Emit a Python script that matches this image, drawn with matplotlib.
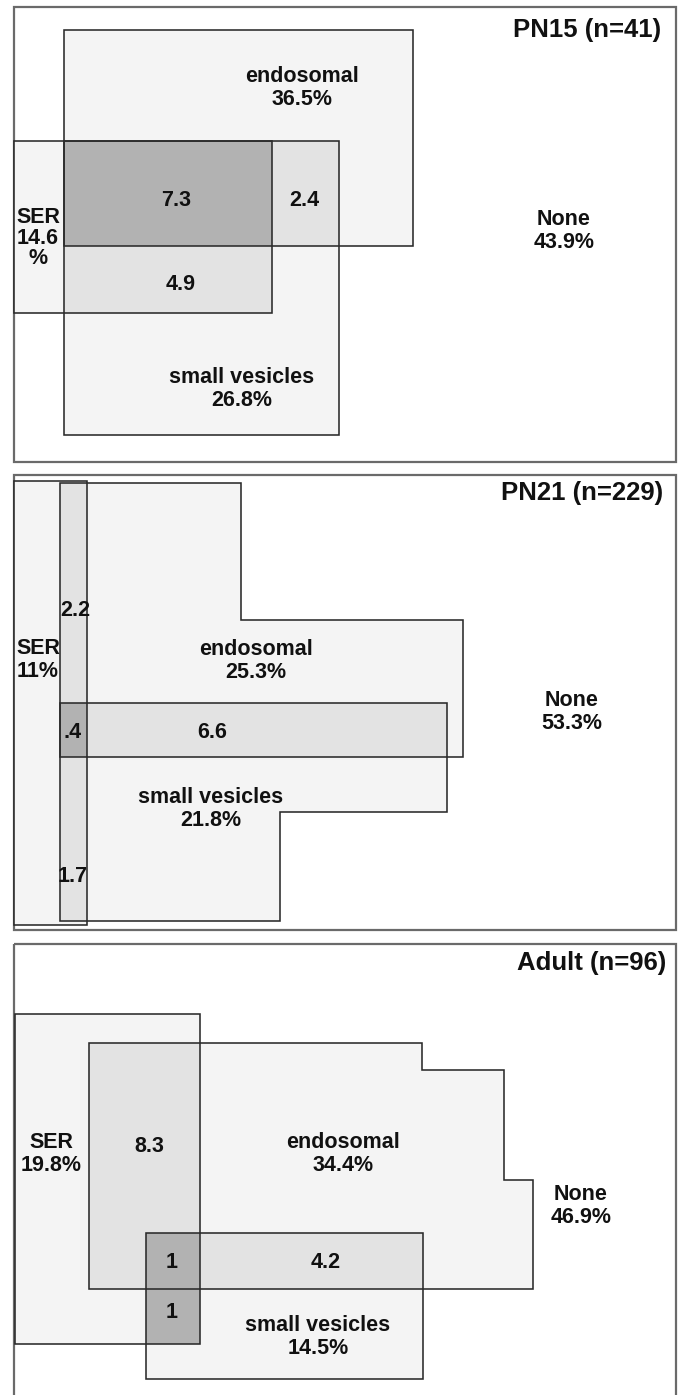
import matplotlib.pyplot as plt
from matplotlib.patches import Polygon

plt.rcParams['font.family'] = ['Liberation Sans', 'DejaVu Sans']

W, H = 679, 1395

# one entry per age group
stages = ["PN15", "PN21", "Adult"]
n_cells = [41, 229, 96]
ser_pct = ["14.6\n%", "11%", "19.8%"]
endo_pct = ["36.5%", "25.3%", "34.4%"]
vesicle_pct = ["26.8%", "21.8%", "14.5%"]
none_pct = ["43.9%", "53.3%", "46.9%"]
overlap_vals = [["7.3", "2.4", "4.9"],
                ["2.2", ".4", "6.6", "1.7"],
                ["8.3", "1", "4.2", "1"]]

# outline of each set, in picture pixels (x, y)
frames = [[(14, 7), (676, 7), (676, 462), (14, 462)],
          [(14, 475), (676, 475), (676, 930), (14, 930)],
          [(14, 944), (676, 944), (676, 1400), (14, 1400)]]
ser_shapes = [[(14, 141), (272, 141), (272, 313), (14, 313)],
              [(14, 481), (87, 481), (87, 925), (14, 925)],
              [(15, 1014), (200, 1014), (200, 1344), (15, 1344)]]
endo_shapes = [[(64, 30), (413, 30), (413, 246), (64, 246)],
               [(60, 483), (241, 483), (241, 620), (463, 620), (463, 757), (60, 757)],
               [(89, 1043), (422, 1043), (422, 1070), (504, 1070), (504, 1180),
                (533, 1180), (533, 1289), (89, 1289)]]
vesicle_shapes = [[(64, 141), (339, 141), (339, 435), (64, 435)],
                  [(60, 703), (447, 703), (447, 812), (280, 812), (280, 921), (60, 921)],
                  [(146, 1233), (423, 1233), (423, 1379), (146, 1379)]]

# overlap cells: x0, y0, x1, y1, number of sets shading it
overlap_cells = [[(64, 141, 272, 246, 3), (272, 141, 339, 246, 2), (64, 246, 272, 313, 2)],
                 [(60, 483, 87, 703, 2), (60, 703, 87, 757, 3), (87, 703, 447, 757, 2),
                  (60, 757, 87, 921, 2)],
                 [(89, 1043, 200, 1289, 2), (146, 1233, 200, 1289, 3), (200, 1233, 423, 1289, 2),
                  (146, 1289, 200, 1344, 3)]]

# label anchors (centre of text)
title_pos = [(661, 30), (663, 493), (666, 963)]
ser_pos = [(38, 238), (38, 660), (51, 1154)]
endo_pos = [(302, 88), (256, 661), (343, 1154)]
vesicle_pos = [(242, 389), (211, 809), (318, 1337)]
none_pos = [(564, 231), (572, 712), (581, 1206)]
overlap_pos = [[(176, 200), (304, 200), (181, 285)],
               [(75, 611), (73, 732), (212, 732), (73, 877)],
               [(149, 1147), (172, 1262), (326, 1262), (172, 1313)]]
ser_spacing = [0.95, 1.15, 1.15]

shade = {1: "#f4f4f4", 2: "#e3e3e3", 3: "#b2b2b2"}
edge = "#2a2a2a"

fig = plt.figure(figsize=(W / 100, H / 100), dpi=100)
ax = fig.add_axes([0, 0, 1, 1])
ax.set_xlim(0, W)
ax.set_ylim(H, 0)
ax.axis("off")

txt = dict(ha="center", va="center", fontsize=15.5, fontweight="bold", color="#111111",
           linespacing=1.15)

for i in range(3):
    ax.add_patch(Polygon(frames[i], closed=True, fill=False, ec="#6a6a6a", lw=1.6))
    shapes = [ser_shapes[i], endo_shapes[i], vesicle_shapes[i]]
    for s in shapes:
        ax.add_patch(Polygon(s, closed=True, fc=shade[1], ec="none"))
    for x0, y0, x1, y1, k in overlap_cells[i]:
        ax.add_patch(Polygon([(x0, y0), (x1, y0), (x1, y1), (x0, y1)], closed=True,
                             fc=shade[k], ec="none"))
    for s in shapes:
        ax.add_patch(Polygon(s, closed=True, fill=False, ec=edge, lw=1.15))

    ax.text(*title_pos[i], f"{stages[i]} (n={n_cells[i]})", ha="right", va="center",
            fontsize=18.5, fontweight="bold", color="#111111")
    ax.text(*ser_pos[i], "SER\n" + ser_pct[i], **{**txt, "linespacing": ser_spacing[i]})
    ax.text(*endo_pos[i], "endosomal\n" + endo_pct[i], **txt)
    ax.text(*vesicle_pos[i], "small vesicles\n" + vesicle_pct[i], **txt)
    ax.text(*none_pos[i], "None\n" + none_pct[i], **txt)
    for v, p in zip(overlap_vals[i], overlap_pos[i]):
        ax.text(*p, v, **txt)

fig.savefig("out.png", dpi=100, facecolor="white")
